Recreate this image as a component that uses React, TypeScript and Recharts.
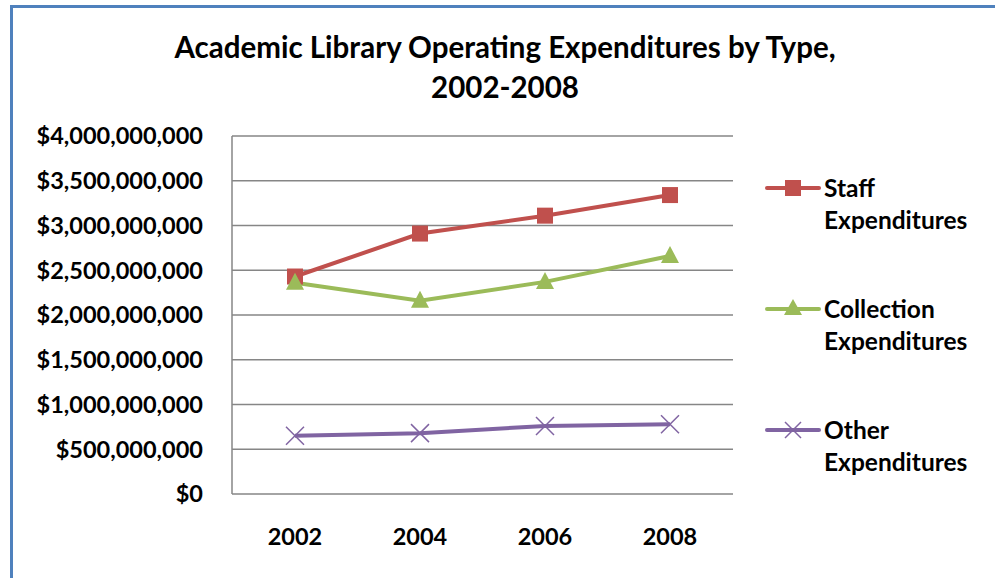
import { LineChart, Line, XAxis, YAxis, CartesianGrid } from 'recharts';

const years = ['2002', '2004', '2006', '2008'];
const staff = [2430000000, 2910000000, 3110000000, 3340000000];
const collection = [2360000000, 2160000000, 2370000000, 2660000000];
const other = [650000000, 680000000, 760000000, 780000000];
const yTicks = [0, 500000000, 1000000000, 1500000000, 2000000000, 2500000000, 3000000000, 3500000000, 4000000000];

const FONT = 'Lato, "Open Sans", sans-serif';

const data = years.map((year, i) => ({
  year,
  staff: staff[i],
  collection: collection[i],
  other: other[i]
}));

const fmtMoney = (v: number) => '$' + v.toLocaleString('en-US');

const SquareDot = (props: any) => {
  const { cx, cy, fill } = props;
  return <rect x={cx - 8} y={cy - 8} width={16} height={16} fill={fill} />;
};

const TriangleDot = (props: any) => {
  const { cx, cy, fill } = props;
  return <path d={`M${cx},${cy - 10} L${cx + 9},${cy + 7} L${cx - 9},${cy + 7} Z`} fill={fill} />;
};

const CrossDot = (props: any) => {
  const { cx, cy, stroke } = props;
  return (
    <path
      d={`M${cx - 9},${cy - 9} L${cx + 9},${cy + 9} M${cx - 9},${cy + 9} L${cx + 9},${cy - 9}`}
      stroke={stroke}
      strokeWidth={1.5}
      fill="none"
    />
  );
};

const series = [
  { key: 'staff', name: ['Staff', 'Expenditures'], color: '#C0504D', shape: 'square' },
  { key: 'collection', name: ['Collection', 'Expenditures'], color: '#9BBB59', shape: 'triangle' },
  { key: 'other', name: ['Other', 'Expenditures'], color: '#8064A2', shape: 'cross' }
];

const LegendBox = () => (
  <div style={{ position: 'absolute', left: 764, top: 172, fontFamily: FONT, fontWeight: 700, fontSize: 24.5 }}>
    {series.map((s, i) => (
      <div key={s.key} style={{ position: 'absolute', top: i * 121, left: 0, width: 230 }}>
        <svg width={58} height={22} style={{ position: 'absolute', left: 0, top: 5 }}>
          <line x1={3} y1={11} x2={55} y2={11} stroke={s.color} strokeWidth={4} strokeLinecap="round" />
          {s.shape === 'square' && <rect x={21} y={3} width={16} height={16} fill={s.color} />}
          {s.shape === 'triangle' && <path d="M29,1 L38,17 L20,17 Z" fill={s.color} />}
          {s.shape === 'cross' && (
            <path d="M21,3 L37,19 M21,19 L37,3" stroke={s.color} strokeWidth={1.5} fill="none" />
          )}
        </svg>
        <div style={{ position: 'absolute', left: 60, top: 0, lineHeight: '32px', whiteSpace: 'nowrap' }}>
          {s.name[0]}
          <br />
          {s.name[1]}
        </div>
      </div>
    ))}
  </div>
);

const App = () => {
  return (
    <div style={{ position: 'absolute', left: 0, top: 0, width: 995, height: 578, background: '#fff', overflow: 'hidden' }}>
      {/* frame border on left and top */}
      <div
        style={{
          position: 'absolute',
          left: 10,
          top: 5,
          width: 1000,
          height: 600,
          borderLeft: '3px solid #4F81BD',
          borderTop: '3px solid #4F81BD'
        }}
      />
      <div
        style={{
          position: 'absolute',
          left: 0,
          top: 27,
          width: 1010,
          textAlign: 'center',
          fontFamily: FONT,
          fontWeight: 700,
          fontSize: 29.5,
          lineHeight: '40px',
          color: '#000'
        }}
      >
        Academic Library Operating Expenditures by Type,
        <br />
        2002-2008
      </div>
      <div style={{ position: 'absolute', left: 0, top: 0 }}>
        <LineChart width={995} height={578} data={data} margin={{ top: 136, right: 262, bottom: 54, left: 0 }}>
          <CartesianGrid vertical={false} stroke="#868686" strokeWidth={1.5} />
          <XAxis
            dataKey="year"
            height={30}
            padding={{ left: 63, right: 63 }}
            axisLine={false}
            tickLine={false}
            tickMargin={28}
            tick={{ fill: '#000', fontFamily: FONT, fontWeight: 700, fontSize: 23.5 }}
          />
          <YAxis
            width={232}
            domain={[0, 4000000000]}
            ticks={yTicks}
            interval={0}
            axisLine={{ stroke: '#868686', strokeWidth: 1.5 }}
            tickLine={false}
            tickMargin={23}
            tickFormatter={fmtMoney}
            tick={{ fill: '#000', fontFamily: FONT, fontWeight: 700, fontSize: 23.5 }}
          />
          <Line
            dataKey="staff"
            stroke="#C0504D"
            fill="#C0504D"
            strokeWidth={4}
            dot={<SquareDot />}
            isAnimationActive={false}
          />
          <Line
            dataKey="collection"
            stroke="#9BBB59"
            fill="#9BBB59"
            strokeWidth={4}
            dot={<TriangleDot />}
            isAnimationActive={false}
          />
          <Line
            dataKey="other"
            stroke="#8064A2"
            fill="#8064A2"
            strokeWidth={4}
            dot={<CrossDot />}
            isAnimationActive={false}
          />
        </LineChart>
      </div>
      <LegendBox />
    </div>
  );
};

export default App;
